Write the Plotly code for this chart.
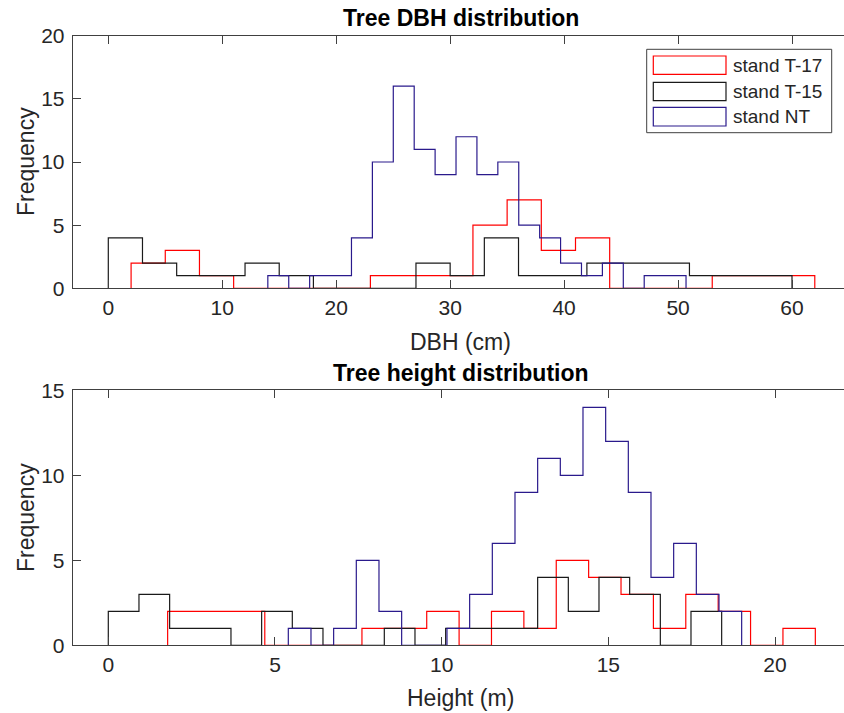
import numpy as np
import plotly.graph_objects as go

W, H = 844, 713

# ---------------- data ----------------
series_names = ["stand T-17", "stand T-15", "stand NT"]
series_colors = ["#ff0000", "#1a1a1a", "#2a1a8c"]

# DBH histograms (20 bins each): bin range [lo, hi] and counts
dbh_t17_range = [2.0, 62.0]
dbh_t17_counts = [2, 3, 1, 0, 0, 0, 0, 1, 1, 1, 5, 7, 3, 4, 0, 0, 0, 1, 1, 1]
dbh_t15_range = [0.0, 60.0]
dbh_t15_counts = [4, 2, 1, 1, 2, 1, 0, 0, 0, 2, 1, 4, 1, 1, 2, 2, 2, 1, 1, 1]
dbh_nt_range = [14.0, 50.7]
dbh_nt_counts = [1, 0, 1, 1, 4, 10, 16, 11, 9, 12, 9, 10, 5, 4, 2, 1, 2, 0, 1, 1]

# Height histograms (20 bins each)
h_t17_range = [1.78, 21.21]
h_t17_counts = [2, 2, 2, 0, 0, 0, 1, 1, 2, 0, 2, 1, 5, 4, 3, 1, 3, 2, 0, 1]
h_t15_range = [0.0, 18.4]
h_t15_counts = [2, 3, 1, 1, 0, 2, 1, 0, 0, 1, 0, 1, 1, 1, 4, 2, 4, 3, 0, 2]
h_nt_range = [5.4, 19.0]
h_nt_counts = [1, 0, 1, 5, 2, 0, 0, 1, 3, 6, 9, 11, 10, 14, 12, 9, 4, 6, 3, 2]

dbh_xticks = [0, 10, 20, 30, 40, 50, 60]
dbh_yticks = [0, 5, 10, 15, 20]
h_xticks = [0, 5, 10, 15, 20]
h_yticks = [0, 5, 10, 15]

dbh_xlim = [-3.124, 64.563]
h_xlim = [-1.068, 22.07]
dbh_ylim = [0, 20]
h_ylim = [0, 15]

# ---------------- helpers ----------------
def px(x):
    return x / W

def py(y):
    return 1 - y / H

def stairs(rng, counts):
    edges = np.linspace(rng[0], rng[1], len(counts) + 1)
    xs = [edges[0]] + list(edges[:-1]) + [edges[-1]]
    ys = [0] + list(counts) + [0]
    return xs, ys

fig = go.Figure()

top = [(dbh_t17_range, dbh_t17_counts), (dbh_t15_range, dbh_t15_counts), (dbh_nt_range, dbh_nt_counts)]
bot = [(h_t17_range, h_t17_counts), (h_t15_range, h_t15_counts), (h_nt_range, h_nt_counts)]

for (rng, cnt), name, col in zip(top, series_names, series_colors):
    xs, ys = stairs(rng, cnt)
    fig.add_trace(go.Scatter(x=xs, y=ys, mode="lines", line=dict(color=col, width=1.2, shape="hv"),
                             name=name, showlegend=False, xaxis="x", yaxis="y", hoverinfo="skip"))
for (rng, cnt), name, col in zip(bot, series_names, series_colors):
    xs, ys = stairs(rng, cnt)
    fig.add_trace(go.Scatter(x=xs, y=ys, mode="lines", line=dict(color=col, width=1.2, shape="hv"),
                             name=name, showlegend=False, xaxis="x2", yaxis="y2", hoverinfo="skip"))

FONT = "Liberation Sans, Arial, sans-serif"
AX = "#262626"
axcommon = dict(showline=True, linecolor="#404040", linewidth=1, ticks="inside", ticklen=8,
                tickcolor="#404040", tickwidth=1, showgrid=False, zeroline=False, automargin=False,
                tickfont=dict(family=FONT, size=21, color=AX))

x_dom = [px(72.7), 1.0]
fig.update_layout(
    width=W, height=H, margin=dict(l=0, r=0, t=0, b=0, pad=0, autoexpand=False),
    paper_bgcolor="white", plot_bgcolor="white", showlegend=False,
    xaxis=dict(domain=x_dom, range=dbh_xlim, tickvals=dbh_xticks, anchor="y", mirror="ticks", **axcommon),
    yaxis=dict(domain=[py(288.3), py(35.7)], range=dbh_ylim, tickvals=dbh_yticks, anchor="x",
               ticklabelstandoff=3, **axcommon),
    xaxis2=dict(domain=x_dom, range=h_xlim, tickvals=h_xticks, anchor="y2", mirror="ticks", **axcommon),
    yaxis2=dict(domain=[py(645.3), py(390.3)], range=h_ylim, tickvals=h_yticks, anchor="x2",
                ticklabelstandoff=3, **axcommon),
)

ann = []
def text(x, y, s, size, bold=False, angle=0, xanchor="center", color=AX):
    ann.append(dict(x=px(x), y=py(y), xref="paper", yref="paper", text=f"<b>{s}</b>" if bold else s,
                    showarrow=False, xanchor=xanchor, yanchor="middle", textangle=angle,
                    font=dict(family=FONT, size=size, color=color)))

cx = (72.7 + 849) / 2
text(cx, 17.5, "Tree DBH distribution", 23, bold=True, color="#000000")
text(cx, 373, "Tree height distribution", 23, bold=True, color="#000000")
text(cx, 341.5, "DBH (cm)", 23)
text(cx, 697.5, "Height (m)", 23)
text(26, 162, "Frequency", 23, angle=-90)
text(26, 518, "Frequency", 23, angle=-90)

# legend (drawn manually to mimic outline patches)
shapes = [dict(type="rect", xref="paper", yref="paper", x0=px(646.7), x1=px(831.7), y0=py(132.7), y1=py(49.3),
               line=dict(color="#404040", width=1), fillcolor="white", layer="above")]
leg_rows = [(56.0, 74.3), (82.3, 100.7), (107.3, 126.0)]
for (y0, y1), name, col in zip(leg_rows, series_names, series_colors):
    shapes.append(dict(type="rect", xref="paper", yref="paper", x0=px(653.3), x1=px(726), y0=py(y1), y1=py(y0),
                       line=dict(color=col, width=1.2), fillcolor="rgba(0,0,0,0)", layer="above"))
    text(730.5, (y0 + y1) / 2, name, 19, xanchor="left")

fig.update_layout(annotations=ann, shapes=shapes)
fig.write_html("out.html", config={"displayModeBar": False, "staticPlot": True},
               post_script="document.body.style.margin='0';document.body.style.overflow='hidden';")
